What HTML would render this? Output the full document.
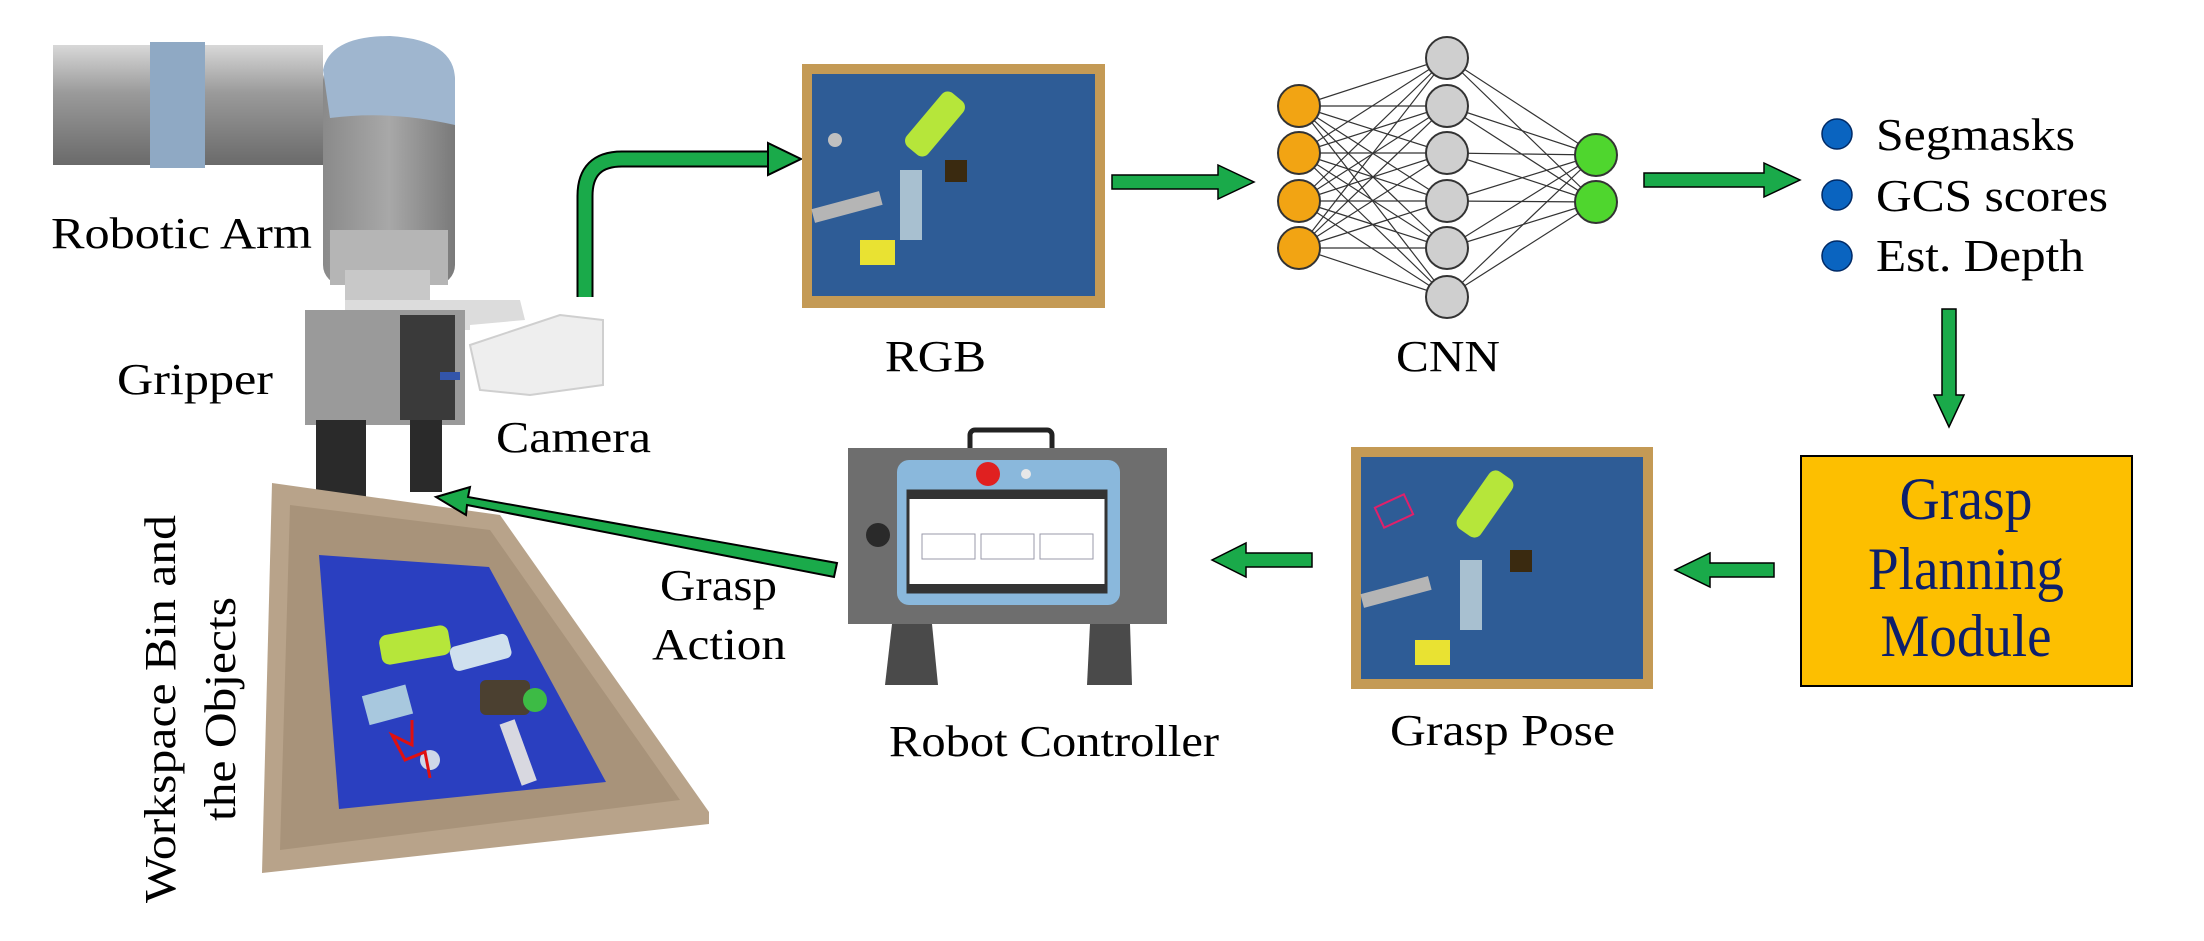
<!DOCTYPE html>
<html><head><meta charset="utf-8"><style>
html,body{margin:0;padding:0;background:#fff;}
svg{display:block;}
text{font-family:"Liberation Serif",serif;fill:#000;}
</style></head><body>
<svg width="2204" height="941" viewBox="0 0 2204 941" xmlns="http://www.w3.org/2000/svg">
<defs>
<linearGradient id="arm" x1="0" y1="0" x2="0" y2="1"><stop offset="0" stop-color="#d8d8d8"/><stop offset="0.4" stop-color="#9a9a9a"/><stop offset="1" stop-color="#6a6a6a"/></linearGradient>
<linearGradient id="joint" x1="0" y1="0" x2="1" y2="0"><stop offset="0" stop-color="#8a8a8a"/><stop offset="0.5" stop-color="#a8a8a8"/><stop offset="1" stop-color="#7a7a7a"/></linearGradient>
</defs>

<rect x="53" y="45" width="270" height="120" fill="url(#arm)"/>
<rect x="150" y="42" width="55" height="126" fill="#8fa9c4"/>
<rect x="323" y="60" width="132" height="225" rx="20" fill="url(#joint)"/>
<path d="M323 70 Q330 36 390 36 Q455 40 455 80 L455 125 Q390 110 330 118 Z" fill="#9fb6cf"/>
<rect x="330" y="230" width="118" height="55" fill="#b5b5b5"/>
<rect x="345" y="270" width="85" height="40" fill="#c8c8c8"/>
<path d="M345 300 L520 300 L525 320 L470 325 L470 330 L345 330 Z" fill="#dcdcdc"/>
<rect x="305" y="310" width="160" height="115" fill="#9a9a9a"/>
<rect x="400" y="315" width="55" height="105" fill="#3a3a3a"/>
<rect x="440" y="372" width="20" height="8" fill="#3355aa"/>
<rect x="316" y="420" width="50" height="110" fill="#2a2a2a"/>
<rect x="410" y="420" width="32" height="72" fill="#2a2a2a"/>
<path d="M470 345 L560 315 L603 320 L603 385 L530 395 L480 390 Z" fill="#eeeeee" stroke="#cfcfcf" stroke-width="2"/>

<polygon points="272,483 500,515 709,812 709,824 262,873" fill="#b8a38a"/>
<polygon points="290,505 490,530 680,800 280,850" fill="#a8937a"/>
<polygon points="319,555 489,567 606,782 339,809" fill="#2a3fc0"/>
<g>
<rect x="380" y="630" width="70" height="30" rx="8" fill="#b6e63a" transform="rotate(-10 415 645)"/>
<rect x="450" y="640" width="60" height="25" rx="6" fill="#cfe0ee" transform="rotate(-15 480 650)"/>
<rect x="480" y="680" width="50" height="35" rx="6" fill="#4b4030"/>
<circle cx="535" cy="700" r="12" fill="#3dbb45"/>
<rect x="510" y="720" width="16" height="65" fill="#d8d8e0" transform="rotate(-20 518 752)"/>
<circle cx="430" cy="760" r="10" fill="#cfd8e8"/>
<rect x="365" y="690" width="45" height="30" fill="#a8c8de" transform="rotate(-15 387 705)"/>
<polyline points="412,720 412,745 392,735 405,760 425,752 430,778" fill="none" stroke="#e01010" stroke-width="3"/>
</g>

<path d="M585 297 L585 196 Q585 159 622 159 L770 159" fill="none" stroke="#000" stroke-width="17"/>
<path d="M585 297 L585 196 Q585 159 622 159 L770 159" fill="none" stroke="#1aaa4a" stroke-width="13"/>
<polygon points="768,143 801,159 768,175" fill="#1aaa4a" stroke="#000" stroke-width="2"/>

<rect x="802" y="64" width="303" height="244" fill="#c49a55"/>
<rect x="812" y="74" width="283" height="222" fill="#2e5c96"/>
<rect x="900" y="110" width="70" height="28" rx="8" fill="#b6e63a" transform="rotate(-50 935 124)"/>
<rect x="812" y="200" width="70" height="14" fill="#b5b5b5" transform="rotate(-15 847 207)"/>
<rect x="900" y="170" width="22" height="70" fill="#a8c0d0"/>
<rect x="860" y="240" width="35" height="25" fill="#e9e232"/>
<circle cx="835" cy="140" r="7" fill="#c0c0c0"/>
<rect x="945" y="160" width="22" height="22" fill="#3a2a10"/>

<polygon points="1112,175 1218,175 1218,165 1254,182 1218,199 1218,189 1112,189" fill="#1aaa4a" stroke="#000" stroke-width="1.5"/>
<g stroke="#333" stroke-width="1.2">
<line x1="1299" y1="106" x2="1447" y2="58"/><line x1="1299" y1="106" x2="1447" y2="106"/><line x1="1299" y1="106" x2="1447" y2="153"/><line x1="1299" y1="106" x2="1447" y2="201"/><line x1="1299" y1="106" x2="1447" y2="248"/><line x1="1299" y1="106" x2="1447" y2="297"/>
<line x1="1299" y1="153" x2="1447" y2="58"/><line x1="1299" y1="153" x2="1447" y2="106"/><line x1="1299" y1="153" x2="1447" y2="153"/><line x1="1299" y1="153" x2="1447" y2="201"/><line x1="1299" y1="153" x2="1447" y2="248"/><line x1="1299" y1="153" x2="1447" y2="297"/>
<line x1="1299" y1="201" x2="1447" y2="58"/><line x1="1299" y1="201" x2="1447" y2="106"/><line x1="1299" y1="201" x2="1447" y2="153"/><line x1="1299" y1="201" x2="1447" y2="201"/><line x1="1299" y1="201" x2="1447" y2="248"/><line x1="1299" y1="201" x2="1447" y2="297"/>
<line x1="1299" y1="248" x2="1447" y2="58"/><line x1="1299" y1="248" x2="1447" y2="106"/><line x1="1299" y1="248" x2="1447" y2="153"/><line x1="1299" y1="248" x2="1447" y2="201"/><line x1="1299" y1="248" x2="1447" y2="248"/><line x1="1299" y1="248" x2="1447" y2="297"/>
<line x1="1447" y1="58" x2="1596" y2="155"/><line x1="1447" y1="106" x2="1596" y2="155"/><line x1="1447" y1="153" x2="1596" y2="155"/><line x1="1447" y1="201" x2="1596" y2="155"/><line x1="1447" y1="248" x2="1596" y2="155"/><line x1="1447" y1="297" x2="1596" y2="155"/>
<line x1="1447" y1="58" x2="1596" y2="202"/><line x1="1447" y1="106" x2="1596" y2="202"/><line x1="1447" y1="153" x2="1596" y2="202"/><line x1="1447" y1="201" x2="1596" y2="202"/><line x1="1447" y1="248" x2="1596" y2="202"/><line x1="1447" y1="297" x2="1596" y2="202"/>
</g>
<g stroke="#333" stroke-width="2">
<circle cx="1299" cy="106" r="21" fill="#f2a413"/><circle cx="1299" cy="153" r="21" fill="#f2a413"/><circle cx="1299" cy="201" r="21" fill="#f2a413"/><circle cx="1299" cy="248" r="21" fill="#f2a413"/>
<circle cx="1447" cy="58" r="21" fill="#cfcfcf"/><circle cx="1447" cy="106" r="21" fill="#cfcfcf"/><circle cx="1447" cy="153" r="21" fill="#cfcfcf"/><circle cx="1447" cy="201" r="21" fill="#cfcfcf"/><circle cx="1447" cy="248" r="21" fill="#cfcfcf"/><circle cx="1447" cy="297" r="21" fill="#cfcfcf"/>
<circle cx="1596" cy="155" r="21" fill="#4fd62e"/><circle cx="1596" cy="202" r="21" fill="#4fd62e"/>
</g>
<polygon points="1644,173 1764,173 1764,163 1800,180 1764,197 1764,187 1644,187" fill="#1aaa4a" stroke="#000" stroke-width="1.5"/>
<circle cx="1837" cy="134" r="15" fill="#0a64c0" stroke="#002a66" stroke-width="1.5"/>
<circle cx="1837" cy="195" r="15" fill="#0a64c0" stroke="#002a66" stroke-width="1.5"/>
<circle cx="1837" cy="256" r="15" fill="#0a64c0" stroke="#002a66" stroke-width="1.5"/>
<text x="1876" y="150" font-size="46" textLength="199" lengthAdjust="spacingAndGlyphs">Segmasks</text>
<text x="1876" y="211" font-size="46" textLength="232" lengthAdjust="spacingAndGlyphs">GCS scores</text>
<text x="1876" y="271" font-size="46" textLength="208" lengthAdjust="spacingAndGlyphs">Est. Depth</text>
<polygon points="1942,309 1956,309 1956,395 1964,395 1949,427 1934,395 1942,395" fill="#1aaa4a" stroke="#000" stroke-width="1.5"/>
<rect x="1801" y="456" width="331" height="230" fill="#fdbf00" stroke="#000" stroke-width="2"/>
<text x="1966" y="519" font-size="60" text-anchor="middle" textLength="133" lengthAdjust="spacingAndGlyphs" style="fill:#0d1f6b">Grasp</text>
<text x="1966" y="589" font-size="60" text-anchor="middle" textLength="196" lengthAdjust="spacingAndGlyphs" style="fill:#0d1f6b">Planning</text>
<text x="1966" y="656" font-size="60" text-anchor="middle" textLength="171" lengthAdjust="spacingAndGlyphs" style="fill:#0d1f6b">Module</text>
<polygon points="1774,563 1710,563 1710,553 1675,570 1710,587 1710,577 1774,577" fill="#1aaa4a" stroke="#000" stroke-width="1.5"/>
<rect x="1351" y="447" width="302" height="242" fill="#c49a55"/>
<rect x="1361" y="457" width="282" height="222" fill="#2e5c96"/>
<rect x="1450" y="490" width="70" height="28" rx="8" fill="#b6e63a" transform="rotate(-55 1485 504)"/>
<rect x="1361" y="585" width="70" height="14" fill="#b5b5b5" transform="rotate(-15 1396 592)"/>
<rect x="1460" y="560" width="22" height="70" fill="#a8c0d0"/>
<rect x="1415" y="640" width="35" height="25" fill="#e9e232"/>
<rect x="1510" y="550" width="22" height="22" fill="#3a2a10"/>
<rect x="1378" y="500" width="32" height="22" fill="none" stroke="#e0206a" stroke-width="2" transform="rotate(-25 1394 511)"/>
<polygon points="1312,553 1246,553 1246,543 1212,560 1246,577 1246,567 1312,567" fill="#1aaa4a" stroke="#000" stroke-width="1.5"/>
<rect x="970" y="430" width="82" height="30" rx="5" fill="none" stroke="#222" stroke-width="5"/>
<rect x="848" y="448" width="319" height="176" fill="#6e6e6e"/>
<rect x="897" y="460" width="223" height="145" rx="12" fill="#8ab8dc"/>
<rect x="908" y="491" width="198" height="101" fill="#fff" stroke="#333" stroke-width="3"/>
<rect x="908" y="491" width="198" height="8" fill="#333"/>
<rect x="908" y="584" width="198" height="8" fill="#333"/>
<rect x="922" y="534" width="53" height="25" fill="none" stroke="#99a" stroke-width="1"/>
<rect x="981" y="534" width="53" height="25" fill="none" stroke="#99a" stroke-width="1"/>
<rect x="1040" y="534" width="53" height="25" fill="none" stroke="#99a" stroke-width="1"/>
<circle cx="988" cy="474" r="12" fill="#e02020"/>
<circle cx="1026" cy="474" r="5" fill="#e8e8e8"/>
<circle cx="878" cy="535" r="12" fill="#2a2a2a"/>
<polygon points="892,624 932,624 938,685 885,685" fill="#4a4a4a"/>
<polygon points="1090,624 1130,624 1132,685 1087,685" fill="#4a4a4a"/>
<polygon points="837,563 468,497 470,487 436,497 466,515 467,505 834,577" fill="#1aaa4a" stroke="#000" stroke-width="2"/>

<text x="51" y="248" font-size="44" textLength="261" lengthAdjust="spacingAndGlyphs">Robotic Arm</text>
<text x="117" y="394" font-size="44" textLength="156" lengthAdjust="spacingAndGlyphs">Gripper</text>
<text x="496" y="452" font-size="44" textLength="155" lengthAdjust="spacingAndGlyphs">Camera</text>
<text x="660" y="600" font-size="44" textLength="117" lengthAdjust="spacingAndGlyphs">Grasp</text>
<text x="652" y="659" font-size="44" textLength="134" lengthAdjust="spacingAndGlyphs">Action</text>
<text x="885" y="371" font-size="44" textLength="101" lengthAdjust="spacingAndGlyphs">RGB</text>
<text x="1396" y="371" font-size="44" textLength="104" lengthAdjust="spacingAndGlyphs">CNN</text>
<text x="889" y="756" font-size="44" textLength="330" lengthAdjust="spacingAndGlyphs">Robot Controller</text>
<text x="1390" y="745" font-size="44" textLength="225" lengthAdjust="spacingAndGlyphs">Grasp Pose</text>
<text transform="translate(175 709) rotate(-90)" x="0" y="0" font-size="44" text-anchor="middle" textLength="388" lengthAdjust="spacingAndGlyphs">Workspace Bin and</text>
<text transform="translate(235 709) rotate(-90)" x="0" y="0" font-size="44" text-anchor="middle" textLength="224" lengthAdjust="spacingAndGlyphs">the Objects</text>
</svg>
</body></html>
